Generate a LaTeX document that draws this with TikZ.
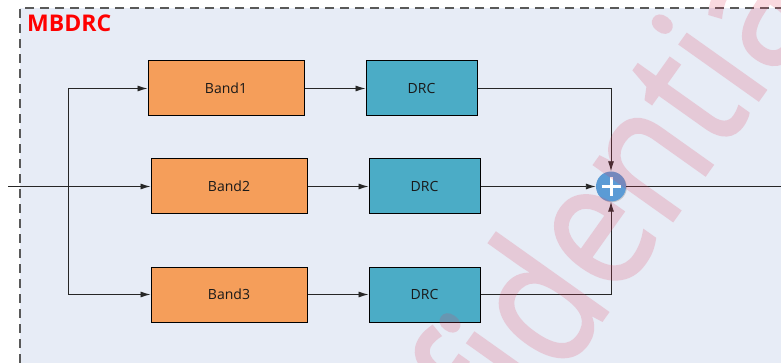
\documentclass[tikz,border=0pt]{standalone}
\usepackage{fontspec}
\setmainfont{Open Sans}
\usetikzlibrary{arrows.meta,shadows}
\definecolor{panelbg}{HTML}{E7ECF6}
\definecolor{bandfill}{HTML}{F59E5A}
\definecolor{drcfill}{HTML}{4BACC6}
\definecolor{sumfill}{HTML}{5B9BD5}
\definecolor{wmark}{HTML}{E0405F}
\tikzset{
  blk/.style={draw, line width=1pt, inner sep=0pt, minimum height=55pt,
    font=\fontsize{14}{16}\selectfont, text=black!90},
  band/.style={blk, fill=bandfill, minimum width=156pt},
  drc/.style={blk, fill=drcfill, minimum width=111pt},
  sum/.style={circle, fill=sumfill, minimum size=30pt, inner sep=0pt,
    drop shadow={opacity=.35, shadow xshift=.8pt, shadow yshift=-.8pt}},
  wire/.style={line width=.9pt, black!85},
  wm/.style={inner sep=0pt, rotate=54.6, xscale=.85},
}
\begin{document}
\begin{tikzpicture}[x=1pt, y=-1pt, >={Latex[length=10pt, width=6pt]}]
\useasboundingbox (0,0) rectangle (781,363);
\clip (0,0) rectangle (781,363);
% panel
\fill[panelbg] (20,8) rectangle (781,363);
\draw[black!65, line width=1.2pt, dash pattern=on 9pt off 6pt] (20,363) -- (20,8) -- (781,8);
\node[anchor=base west, inner sep=0pt, text=red, font=\bfseries\fontsize{23}{23}\selectfont] (title) at (27,32) {MBDRC};
% blocks
\node[band] (b1) at (226,88.5) {Band1};
\node[band] (b2) at (229,186.5) {Band2};
\node[band] (b3) at (229,294.5) {Band3};
\node[drc] (d1) at (421.5,88.5) {DRC};
\node[drc] (d2) at (424.5,186.5) {DRC};
\node[drc] (d3) at (424.5,294.5) {DRC};
\node[sum] (sum) at (611,186.5) {};
\draw[white, line width=3pt] ([xshift=-9.5pt]sum.center) -- ([xshift=9.5pt]sum.center)
  ([yshift=-9.5pt]sum.center) -- ([yshift=9.5pt]sum.center);
\coordinate (in) at (8,186.5);
\coordinate (split) at (68,186.5);
\coordinate (out) at (792,186.5);
% wires
\draw[wire,->] (in) -- (b2);
\draw[wire,->] (split) |- (b1);
\draw[wire,->] (split) |- (b3);
\foreach \i in {1,2,3}
  \draw[wire,->] (b\i) -- (d\i);
\draw[wire,->] (d1) -| (sum);
\draw[wire,->] (d2) -- (sum);
\draw[wire,->] (d3) -| (sum);
\draw[wire,->] (sum) -- (out);
% watermark
\begin{scope}[transparency group, opacity=.2]
\begin{scope}[wmark, font=\fontsize{180}{180}\selectfont\addfontfeature{FakeBold=1.5}]
\node[wm, anchor=base east] (wmA) at (561,378) {Confi};
\node[wm, anchor=base west] (wmB) at (561,378) {dential};
\end{scope}
\end{scope}
\end{tikzpicture}
\end{document}
